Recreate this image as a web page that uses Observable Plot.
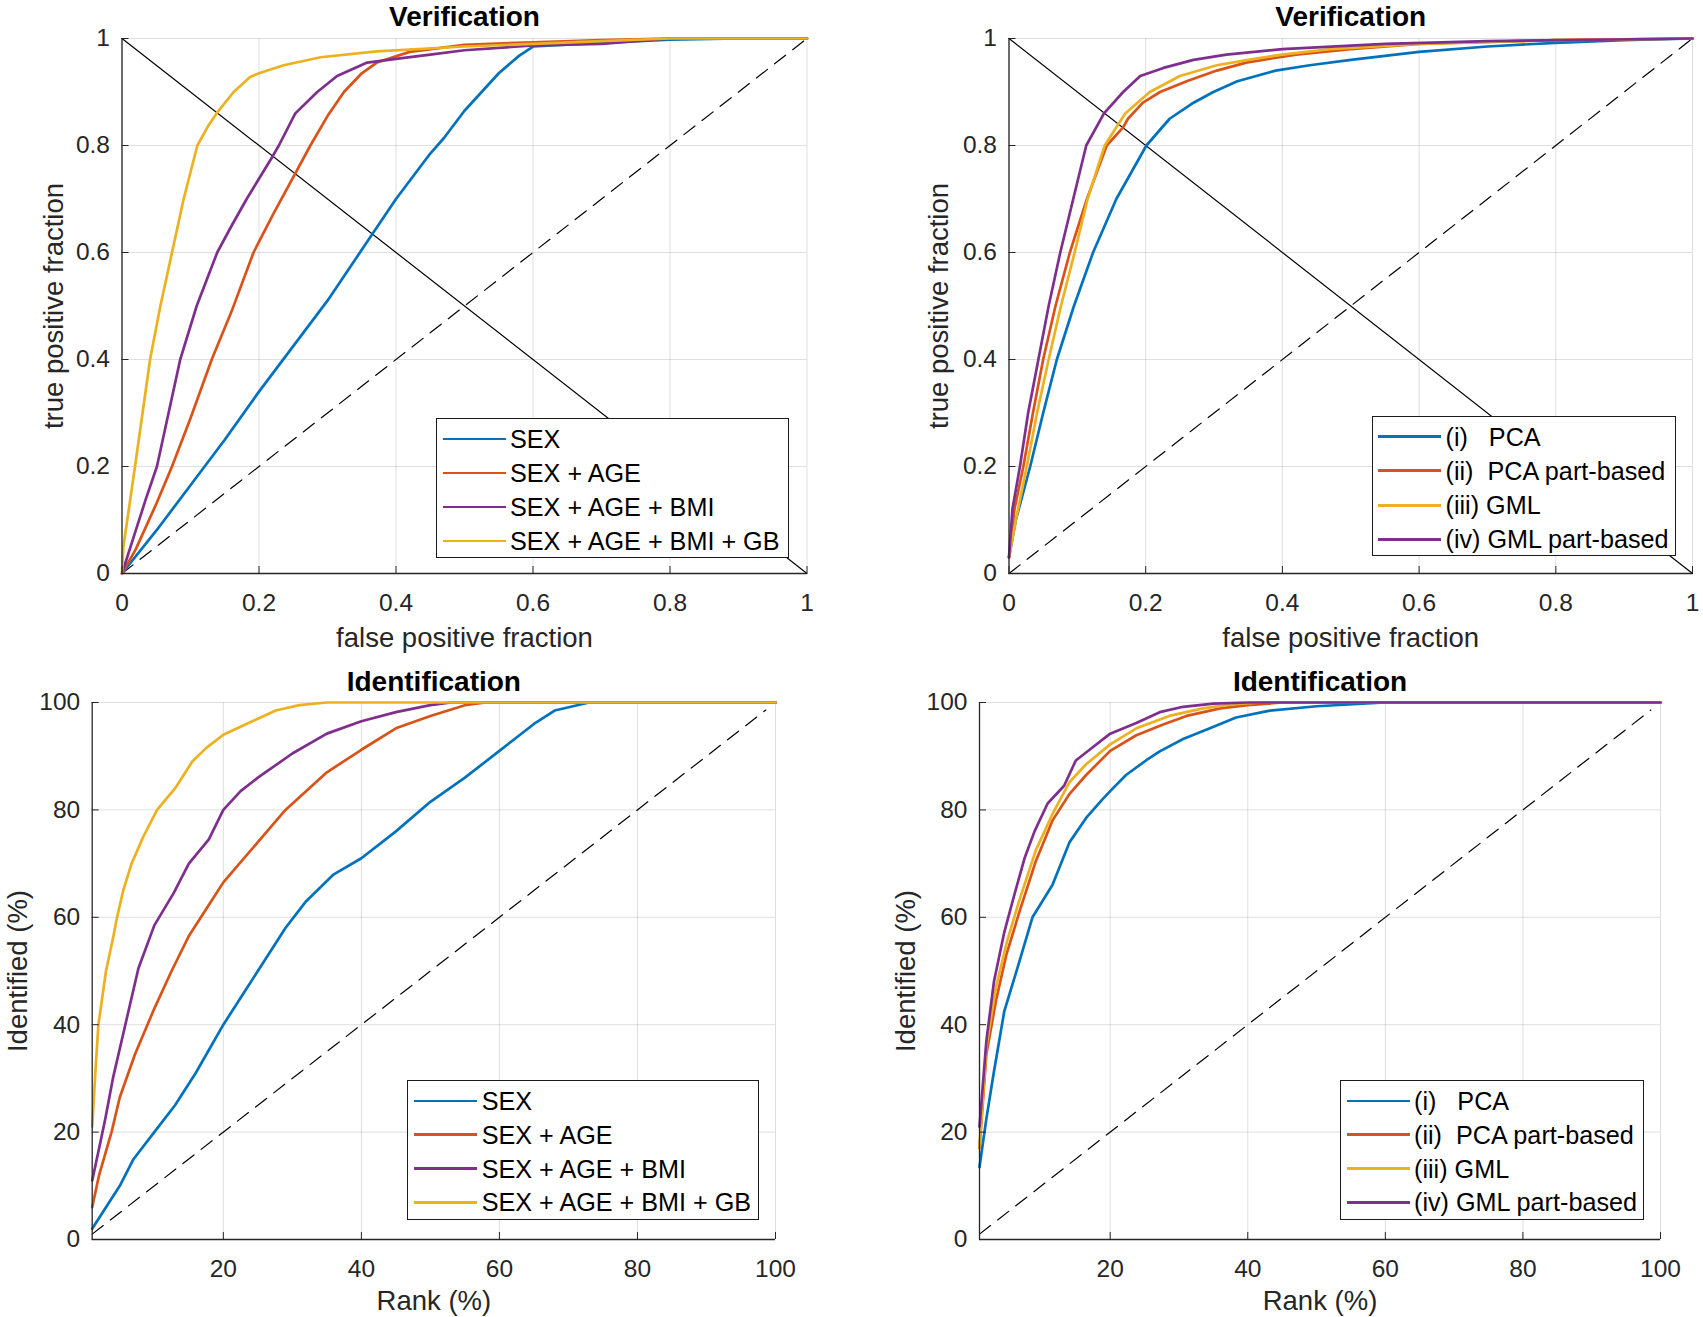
<!DOCTYPE html>
<html><head><meta charset="utf-8">
<script src="https://cdn.jsdelivr.net/npm/d3@7"></script>
<script src="https://cdn.jsdelivr.net/npm/@observablehq/plot@0.6"></script>
<style>
body{margin:0;background:#fff;}
#fig{position:relative;width:1703px;height:1317px;background:#fff;font-family:"Liberation Sans",Arial,sans-serif;overflow:hidden;}
.panel{position:absolute;}
.legend{position:absolute;background:#fff;border:1.3px solid #1a1a1a;box-sizing:border-box;}
.legend .row{position:absolute;left:0;width:100%;height:0;}
.legend .sw{position:absolute;height:2.8px;top:-1.4px;}
.legend .lt{position:absolute;top:-15px;line-height:30px;font-size:25.2px;white-space:pre;color:#000;}
</style></head><body><div id="fig"></div><script>
// ---------- labels, colours, ticks ----------
const covariateLabels = ["SEX", "SEX + AGE", "SEX + AGE + BMI", "SEX + AGE + BMI + GB"];
const methodLabels = ["(i)   PCA", "(ii)  PCA part-based", "(iii) GML", "(iv) GML part-based"];
const covariateColors = ["#0072BD", "#D95319", "#7E2F8E", "#EDB120"];
const methodColors = ["#0072BD", "#D95319", "#EDB120", "#7E2F8E"];
const fractionTicks = [0, 0.2, 0.4, 0.6, 0.8, 1];
const rankTicksX = [20, 40, 60, 80, 100];
const rankTicksY = [0, 20, 40, 60, 80, 100];

// ---------- reference lines ----------
const rocChance = [[0, 0], [1, 1]];
const rocEER = [[0, 1], [1, 0]];
const rankChance = [[1, 1], [98.6, 98.6]];

// ---------- Verification (covariates): [false positive fraction, true positive fraction] ----------
const rocSex = [[0,0],[0.05,0.08],[0.1,0.165],[0.15,0.25],[0.2,0.34],[0.25,0.425],[0.3,0.51],[0.35,0.605],[0.4,0.7],[0.45,0.785],[0.47,0.814],[0.5,0.865],[0.55,0.935],[0.58,0.968],[0.6,0.985],[0.7,0.992],[0.8,0.998],[0.9,1],[1,1]];
const rocSexAge = [[0,0],[0.02,0.045],[0.05,0.13],[0.073,0.2],[0.1,0.29],[0.131,0.4],[0.16,0.49],[0.192,0.6],[0.22,0.67],[0.253,0.748],[0.275,0.8],[0.3,0.855],[0.324,0.9],[0.35,0.935],[0.372,0.955],[0.42,0.975],[0.5,0.988],[0.6,0.993],[0.7,0.997],[0.8,1],[1,1]];
const rocSexAgeBmi = [[0,0],[0.02,0.08],[0.035,0.14],[0.051,0.2],[0.068,0.3],[0.085,0.4],[0.109,0.5],[0.139,0.6],[0.16,0.65],[0.182,0.7],[0.22,0.78],[0.229,0.8],[0.253,0.86],[0.285,0.9],[0.314,0.93],[0.358,0.955],[0.4,0.962],[0.45,0.97],[0.5,0.978],[0.6,0.987],[0.7,0.99],[0.8,1],[1,1]];
const rocSexAgeBmiGb = [[0,0],[0.002,0.05],[0.01,0.12],[0.019,0.2],[0.03,0.3],[0.041,0.4],[0.056,0.5],[0.073,0.6],[0.09,0.7],[0.11,0.8],[0.125,0.835],[0.138,0.86],[0.163,0.9],[0.187,0.928],[0.2,0.935],[0.236,0.95],[0.29,0.965],[0.372,0.976],[0.5,0.985],[0.6,0.99],[0.7,0.995],[0.8,1],[1,1]];

// ---------- Verification (methods) ----------
const rocPCA = [[0,0.03],[0.01,0.1],[0.031,0.2],[0.05,0.3],[0.07,0.4],[0.095,0.5],[0.123,0.6],[0.157,0.7],[0.201,0.8],[0.235,0.85],[0.27,0.88],[0.299,0.9],[0.334,0.92],[0.39,0.94],[0.44,0.95],[0.5,0.96],[0.6,0.975],[0.7,0.985],[0.8,0.992],[0.9,0.997],[1,1]];
const rocPCAPart = [[0,0.03],[0.008,0.12],[0.021,0.2],[0.035,0.3],[0.05,0.4],[0.068,0.5],[0.089,0.6],[0.114,0.7],[0.143,0.8],[0.167,0.834],[0.174,0.85],[0.196,0.88],[0.221,0.9],[0.26,0.92],[0.304,0.94],[0.347,0.955],[0.42,0.97],[0.5,0.98],[0.6,0.99],[0.8,0.997],[1,1]];
const rocGML = [[0,0.03],[0.01,0.1],[0.026,0.2],[0.041,0.3],[0.058,0.4],[0.076,0.5],[0.096,0.6],[0.115,0.7],[0.14,0.8],[0.17,0.86],[0.206,0.9],[0.25,0.93],[0.304,0.95],[0.35,0.96],[0.4,0.97],[0.47,0.98],[0.6,0.99],[0.8,0.997],[1,1]];
const rocGMLPart = [[0,0.03],[0.005,0.12],[0.016,0.2],[0.028,0.3],[0.043,0.4],[0.058,0.5],[0.075,0.6],[0.094,0.7],[0.113,0.8],[0.139,0.86],[0.167,0.9],[0.192,0.93],[0.226,0.945],[0.27,0.96],[0.318,0.97],[0.4,0.98],[0.55,0.99],[0.7,0.995],[1,1]];

// ---------- Identification (covariates): [rank %, identified %] ----------
const rankSex = [[1,2],[3,6],[5,10],[7,15],[10,20],[13,25],[16,31],[20,40],[23,46],[26,52],[29,58],[32,63],[36,68],[40,71],[45,76],[50,81.5],[55,86],[60,91],[65,96],[68,98.5],[73,100],[100,100]];
const rankSexAge = [[1,6],[2,12],[3.8,20],[5,26.5],[7.2,34.5],[10,43],[12.5,50],[15,56.5],[17.5,61.5],[20,66.5],[25,74],[29,80],[35,87],[40,91.2],[45,95.2],[50,97.5],[55,99.5],[58,100],[100,100]];
const rankSexAgeBmi = [[1,11],[2,17],[2.9,22.5],[4,30],[5.8,40],[7.7,50.5],[10,58.5],[12.8,64.5],[15,70],[17.9,74.5],[20,80],[22.5,83.5],[25,86],[30,90.5],[35,94.2],[40,96.5],[45,98.2],[50,99.5],[53,100],[100,100]];
const rankSexAgeBmiGb = [[1,21],[1.5,32],[1.9,40],[3,50],[4,56],[4.6,60],[5.5,65],[6.7,70],[8.4,75],[10.4,80],[13,84],[15.5,89],[17.5,91.5],[20,94],[24.2,96.5],[27.6,98.5],[31,99.5],[35,100],[100,100]];

// ---------- Identification (methods) ----------
const rankPCA = [[1,13.5],[2,22.5],[3,30.5],[4.6,42.5],[6.5,50.5],[8.7,60],[11.6,66],[14.1,74],[16.5,78.5],[18.9,82],[20,83.5],[22.3,86.5],[25.2,89.2],[27.2,90.9],[30.6,93.2],[34.5,95.2],[38.3,97.2],[43.2,98.5],[50,99.3],[60,100],[100,100]];
const rankPCAPart = [[1,17],[2,34.5],[3.4,44.5],[4.9,53],[6.8,61],[9.2,70.5],[11.6,78],[14.1,83],[16.5,86.5],[20,91],[23.8,93.9],[27.7,95.9],[31.1,97.5],[36,98.9],[40,99.5],[45,100],[100,100]];
const rankGML = [[1,17],[2,36],[3.4,47],[5,55.5],[6.8,63.2],[9.2,72.5],[11.6,79.2],[14.1,85.2],[16.5,88.5],[20,92.2],[23.8,95.2],[28.6,97.5],[33.5,98.9],[38,99.7],[42,100],[100,100]];
const rankGMLPart = [[1,21],[2,37],[3.1,48],[4.6,57.2],[6,63.9],[7.6,71.2],[9,76],[10.9,81.2],[13.3,84.5],[15,89.2],[17,91.2],[20,94.2],[23.8,96.2],[27.2,98.2],[30.6,99.2],[35,99.8],[40,100],[100,100]];

// ---------- drawing ----------
const fig = document.getElementById("fig");
const axisColor = "#262626";
const fontFamily = '"Liberation Sans", Arial, sans-serif';

function panel(cfg) {
  const table = cfg.series.flatMap((s, i) => s.map(([x, y]) => ({series: cfg.labels[i], x, y})));
  const pt = {x: d => d[0], y: d => d[1]};
  const svg = Plot.plot({
    width: cfg.width, height: cfg.height,
    marginLeft: cfg.m[0], marginRight: cfg.m[1], marginTop: cfg.m[2], marginBottom: cfg.m[3],
    x: {domain: cfg.xDomain},
    y: {domain: cfg.yDomain},
    color: {domain: cfg.labels, range: cfg.colors},
    style: {fontFamily, background: "transparent", overflow: "visible"},
    marks: [
      Plot.gridX(cfg.xTicks, {stroke: axisColor, strokeOpacity: 0.15, strokeWidth: 1}),
      Plot.gridY(cfg.yTicks, {stroke: axisColor, strokeOpacity: 0.15, strokeWidth: 1}),
      Plot.line(cfg.dashed, {...pt, stroke: "#000", strokeWidth: 1.2, strokeDasharray: "14,9"}),
      cfg.solid ? Plot.line(cfg.solid, {...pt, stroke: "#000", strokeWidth: 1.2}) : null,
      Plot.line(table, {x: "x", y: "y", z: "series", stroke: "series", strokeWidth: 2.7, strokeLinejoin: "round", strokeLinecap: "round"}),
      Plot.ruleX([cfg.xDomain[0]], {stroke: axisColor, strokeWidth: 1.3}),
      Plot.ruleY([cfg.yDomain[0]], {stroke: axisColor, strokeWidth: 1.3}),
      Plot.axisX(cfg.xTicks, {anchor: "bottom", tickSize: 7, dy: -7, tickPadding: 20, fontSize: 24.5, color: axisColor, tickFormat: d => String(d), label: null}),
      Plot.axisY(cfg.yTicks, {anchor: "left", tickSize: 7, dx: 7, tickPadding: 12, fontSize: 24.5, color: axisColor, tickFormat: d => String(d), label: null}),
      Plot.text([cfg.title], {text: d => d, frameAnchor: "top", dy: cfg.titleDy, fontSize: 28, fontWeight: "bold", fill: "#000", lineAnchor: "middle"}),
      Plot.text([cfg.xLabel], {text: d => d, frameAnchor: "bottom", dy: cfg.xLabelDy, fontSize: 27.5, fill: axisColor, lineAnchor: "middle"}),
      Plot.text([cfg.yLabel], {text: d => d, frameAnchor: "left", dx: cfg.yLabelDx, rotate: -90, textAnchor: "middle", fontSize: 27.5, fill: axisColor, lineAnchor: "middle"})
    ]
  });
  const wrap = document.createElement("div");
  wrap.className = "panel";
  wrap.style.left = cfg.left + "px";
  wrap.style.top = cfg.top + "px";
  wrap.append(svg);
  fig.append(wrap);
}

function legend(labels, colors, box) {
  const div = document.createElement("div");
  div.className = "legend";
  Object.assign(div.style, {left: box.left + "px", top: box.top + "px", width: box.width + "px", height: box.height + "px"});
  labels.forEach((lab, i) => {
    const row = document.createElement("div");
    row.className = "row";
    row.style.top = (box.first + i * box.step) + "px";
    const sw = document.createElement("div");
    sw.className = "sw";
    sw.style.left = box.swLeft + "px";
    sw.style.width = box.swLen + "px";
    sw.style.background = colors[i];
    const t = document.createElement("div");
    t.className = "lt";
    t.style.left = box.textLeft + "px";
    t.textContent = lab;
    row.append(sw, t);
    div.append(row);
  });
  fig.append(div);
}

panel({left: 0, top: 0, width: 850, height: 660, m: [121.5, 43.5, 38, 87],
  series: [rocSex, rocSexAge, rocSexAgeBmi, rocSexAgeBmiGb], labels: covariateLabels, colors: covariateColors,
  xDomain: [0, 1], yDomain: [0, 1], xTicks: fractionTicks, yTicks: fractionTicks,
  dashed: rocChance, solid: rocEER,
  title: "Verification", xLabel: "false positive fraction", yLabel: "true positive fraction",
  titleDy: -21, xLabelDy: 64.5, yLabelDx: -67.5});

panel({left: 850, top: 0, width: 853, height: 660, m: [158.5, 11, 38, 87],
  series: [rocPCA, rocPCAPart, rocGML, rocGMLPart], labels: methodLabels, colors: methodColors,
  xDomain: [0, 1], yDomain: [0, 1], xTicks: fractionTicks, yTicks: fractionTicks,
  dashed: rocChance, solid: rocEER,
  title: "Verification", xLabel: "false positive fraction", yLabel: "true positive fraction",
  titleDy: -21, xLabelDy: 64.5, yLabelDx: -69.5});

panel({left: 0, top: 660, width: 850, height: 657, m: [91.7, 75, 42, 78],
  series: [rankSex, rankSexAge, rankSexAgeBmi, rankSexAgeBmiGb], labels: covariateLabels, colors: covariateColors,
  xDomain: [1, 100], yDomain: [0, 100], xTicks: rankTicksX, yTicks: rankTicksY,
  dashed: rankChance, solid: null,
  title: "Identification", xLabel: "Rank (%)", yLabel: "Identified (%)",
  titleDy: -20, xLabelDy: 62, yLabelDx: -74});

panel({left: 850, top: 660, width: 853, height: 657, m: [129, 43, 42, 78],
  series: [rankPCA, rankPCAPart, rankGML, rankGMLPart], labels: methodLabels, colors: methodColors,
  xDomain: [1, 100], yDomain: [0, 100], xTicks: rankTicksX, yTicks: rankTicksY,
  dashed: rankChance, solid: null,
  title: "Identification", xLabel: "Rank (%)", yLabel: "Identified (%)",
  titleDy: -20, xLabelDy: 62, yLabelDx: -73.5});

legend(covariateLabels, covariateColors, {left: 436, top: 417.5, width: 352.5, height: 140, first: 20.5, step: 34, swLeft: 6, swLen: 63, textLeft: 73});
legend(methodLabels, methodColors, {left: 1371.5, top: 416, width: 304.5, height: 139.5, first: 19.5, step: 34.3, swLeft: 5, swLen: 63, textLeft: 73});
legend(covariateLabels, covariateColors, {left: 406.7, top: 1080, width: 352.6, height: 139.5, first: 20, step: 33.8, swLeft: 6, swLen: 63, textLeft: 74});
legend(methodLabels, methodColors, {left: 1340, top: 1080, width: 304, height: 139.5, first: 20, step: 33.8, swLeft: 6, swLen: 63, textLeft: 73});
</script></body></html>
